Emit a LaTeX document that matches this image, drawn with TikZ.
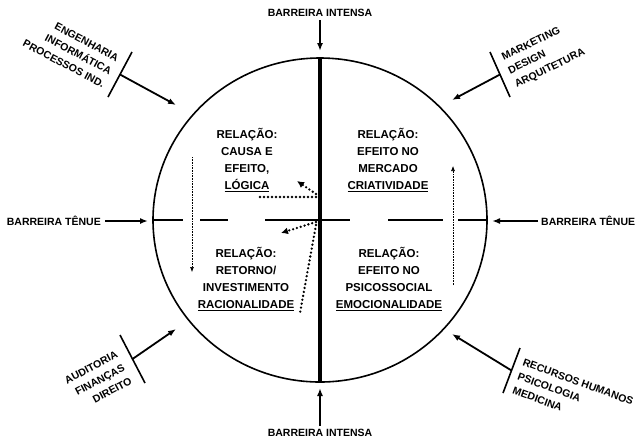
\documentclass[tikz,border=0pt]{standalone}
\usepackage{fontspec}
\setmainfont{Liberation Sans}
\usetikzlibrary{arrows.meta}
% thick underline for the key words
\newcommand\keyword[1]{\setbox0\hbox{#1}\rlap{\rule[-2.6pt]{\wd0}{1.2pt}}\box0}
\begin{document}
\begin{tikzpicture}[x=1pt,y=-1pt,
  lbl/.style={font=\fontsize{10.5}{15}\selectfont\bfseries, inner sep=0pt},
  quad/.style={font=\fontsize{11.5}{17}\selectfont\bfseries, align=center, inner sep=0pt},
  arr/.style={line width=1.8pt, -{Latex[length=8pt,width=6pt]}},
  tickline/.style={line width=1.6pt},
  fine/.style={line width=0.6pt, densely dotted, -{Latex[length=5pt,width=4pt]}},
  dots/.style={line width=2.6pt, dash pattern=on 0pt off 4pt, line cap=round},
  dotarr/.style={dots, -{Latex[length=7pt,width=7pt]}},
]
\useasboundingbox (0,0) rectangle (636,440);

% main circle and its axes
\coordinate (c) at (320,220);
\draw[line width=1.6pt] (c) ellipse [x radius=167, y radius=162];
\coordinate (N) at (320,58);
\coordinate (S) at (320,382);
\coordinate (W) at (153,220);
\coordinate (E) at (487,220);
\draw[line width=4pt] (N) -- (S);
\draw[line width=2pt, dash pattern=on 30pt off 17pt on 28pt off 37pt on 85pt off 38pt on 55pt off 15pt on 40pt] (W) -- (E);

% barriers
\node[lbl] (bt) at (320,13) {BARREIRA INTENSA};
\node[lbl] (bb) at (320,433) {BARREIRA INTENSA};
\node[lbl, anchor=east] (bl) at (101,221) {BARREIRA TÊNUE};
\node[lbl, anchor=west] (br) at (541,221) {BARREIRA TÊNUE};
\coordinate (btend) at (320,51);
\coordinate (bbend) at (320,388);
\coordinate (blend) at (148,221);
\coordinate (brend) at (492,221);
\draw[arr] (bt.south) ++(0,3) coordinate (bts) -- (btend);
\draw[arr] (bb.north) ++(0,-3) coordinate (bbs) -- (bbend);
\draw[arr] (bl.east) ++(4,0) coordinate (bls) -- (blend);
\draw[arr] (br.west) ++(-3,0) coordinate (brs) -- (brend);

% areas of knowledge
\coordinate (tl1) at (132,52); \coordinate (tl2) at (108,97);
\coordinate (tlm) at (120,74.5); \coordinate (tlt) at (176,105);
\draw[tickline] (tl1) -- (tl2);
\draw[arr] (tlm) -- (tlt);
\node[lbl, align=right, anchor=east, rotate=-28] (tl) at (111,72) {ENGENHARIA\\INFORMÁTICA\\PROCESSOS IND.};

\coordinate (tr1) at (490,52); \coordinate (tr2) at (510,97);
\coordinate (trm) at (500,74.5); \coordinate (trt) at (452,100);
\draw[tickline] (tr1) -- (tr2);
\draw[arr] (trm) -- (trt);
\node[lbl, align=left, anchor=west, rotate=26] (tr) at (509,72) {MARKETING\\DESIGN\\ARQUITETURA};

\coordinate (bl1) at (120,335); \coordinate (bl2) at (145,383);
\coordinate (blm) at (132.5,359); \coordinate (blt) at (176,329);
\draw[tickline] (bl1) -- (bl2);
\draw[arr] (blm) -- (blt);
\node[lbl, align=right, anchor=east, rotate=28] (blab) at (124,367) {AUDITORIA\\FINANÇAS\\DIREITO};

\coordinate (br1) at (520,348); \coordinate (br2) at (503,393);
\coordinate (brm) at (511.5,370.5); \coordinate (brt) at (452,334);
\draw[tickline] (br1) -- (br2);
\draw[arr] (brm) -- (brt);
\node[lbl, align=left, anchor=west, rotate=-20] (brlab) at (518,376) {RECURSOS HUMANOS\\PSICOLOGIA\\MEDICINA};

% quadrants
\node[quad] (q1) at (247,160) {RELAÇÃO:\\CAUSA E\\EFEITO,\\\keyword{LÓGICA}};
\node[quad] (q2) at (388,160) {RELAÇÃO:\\EFEITO NO\\MERCADO\\\keyword{CRIATIVIDADE}};
\node[quad] (q3) at (246,279) {RELAÇÃO:\\RETORNO/\\INVESTIMENTO\\\keyword{RACIONALIDADE}};
\node[quad] (q4) at (389,279) {RELAÇÃO:\\EFEITO NO\\PSICOSSOCIAL\\\keyword{EMOCIONALIDADE}};

% flows inside the circle
\coordinate (f1a) at (192,157); \coordinate (f1b) at (192,272);
\coordinate (f2a) at (453,285); \coordinate (f2b) at (453,166);
\draw[fine] (f1a) -- (f1b);
\draw[fine] (f2a) -- (f2b);

\coordinate (o1) at (316,197); \coordinate (h1) at (258,197);
\coordinate (o2) at (316,194); \coordinate (h2) at (297,181);
\coordinate (o3) at (316,222); \coordinate (h3) at (281,233);
\coordinate (o4) at (316,225); \coordinate (h4) at (300,313);
\draw[dots] (o1) -- (h1);
\draw[dotarr] (o2) -- (h2);
\draw[dotarr] (o3) -- (h3);
\draw[dots] (o4) -- (h4);
\end{tikzpicture}
\end{document}
